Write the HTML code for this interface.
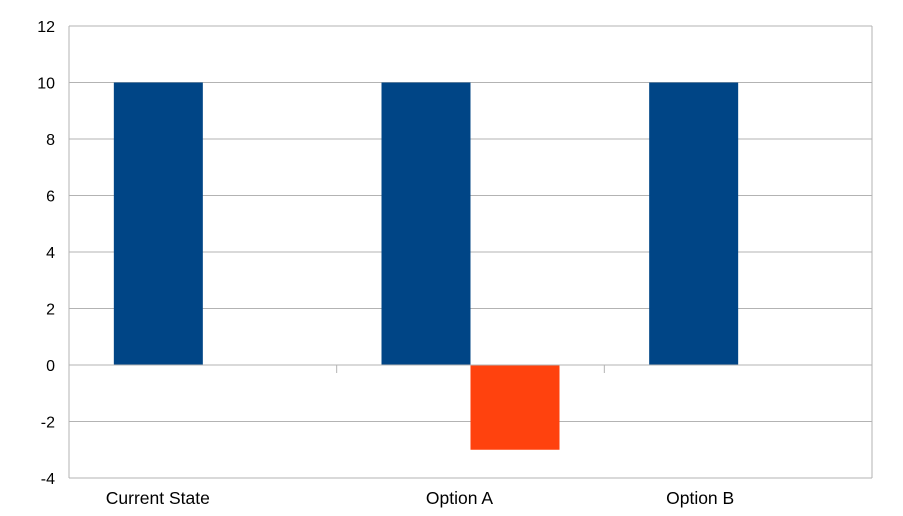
<!DOCTYPE html>
<html><head><meta charset="utf-8"><style>
html,body{margin:0;padding:0;background:#fff;}
svg{display:block;font-family:"Liberation Sans",sans-serif;}
</style></head><body>
<svg id="chart" width="903" height="516" viewBox="0 0 903 516"></svg>
<script>
const categories=["Current State","Option A","Option B"];
const series1=[10,10,10];
const series2=[0,-3,0];
const yTicks=[-4,-2,0,2,4,6,8,10,12];
const labelOffsets=[-45,-11,-38];

const svg=document.getElementById('chart');
const NS='http://www.w3.org/2000/svg';
const L=69,R=872,T=26,B=478,yMin=-4,yMax=12;
const y=v=>T+(yMax-v)/(yMax-yMin)*(B-T);
const catW=(R-L)/categories.length;
const x=i=>L+i*catW;
function mk(tag,attrs){const e=document.createElementNS(NS,tag);for(const k in attrs)e.setAttribute(k,attrs[k]);svg.appendChild(e);return e;}

yTicks.forEach(t=>{
  const g=mk('line',{x1:L,x2:R,y1:y(t),y2:y(t),stroke:'#b3b3b3','stroke-width':1});
  
  
  const tx=mk('text',{x:55,y:y(t)+6,'text-anchor':'end','font-size':16,fill:'#000'});
  tx.textContent=t;
  
  
});
const lv=mk('line',{x1:L,x2:L,y1:T,y2:B,stroke:'#b3b3b3'});


const rv=mk('line',{x1:R,x2:R,y1:T,y2:B,stroke:'#b3b3b3'});



const bw=89,gap=(catW-2*bw)/2;
categories.forEach((c,i)=>{
  const v1=series1[i];
  const b1=mk('rect',{x:x(i)+gap,y:Math.min(y(v1),y(0)),width:bw,height:Math.abs(y(v1)-y(0)),fill:'#004586'});
  
  
  const v2=series2[i];
  if(v2!==0){
    const b2=mk('rect',{x:x(i)+gap+bw,y:Math.min(y(v2),y(0)),width:bw,height:Math.abs(y(v2)-y(0)),fill:'#ff420e'});
    
    
  }
  const tl=mk('text',{x:x(i)+catW/2+labelOffsets[i],y:504,'text-anchor':'middle','font-size':17.5,fill:'#000'});
  tl.textContent=c;
  
  
});
const zl=mk('line',{x1:L,x2:R,y1:y(0),y2:y(0),stroke:'#b3b3b3'});


for(let i=1;i<=categories.length;i++){
  const tk=mk('line',{x1:x(i),x2:x(i),y1:y(0),y2:y(0)+8,stroke:'#b3b3b3'});
  
  
}
</script>
</body></html>
